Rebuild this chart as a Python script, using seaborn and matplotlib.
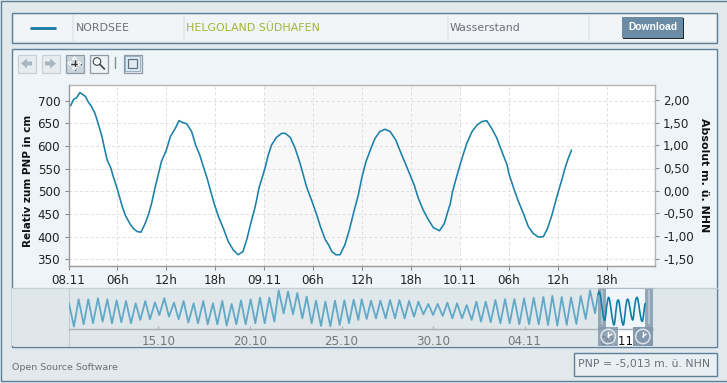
import matplotlib
matplotlib.use("Agg")
import matplotlib.pyplot as plt
from matplotlib.patches import Rectangle, Circle, Polygon
import seaborn as sns
import pandas as pd

# --- data -------------------------------------------------------------
hours = [0.0,0.3,0.6,1.0,1.4,1.8,2.1,2.4,2.8,3.25,3.7,4.1,4.5,4.75,5.2,5.5,5.9,6.3,6.6,7.0,7.55,8.0,8.45,8.9,
         9.4,9.8,10.2,10.6,11.0,11.4,12.0,12.5,13.1,13.55,14.0,14.5,15.1,15.6,16.1,16.6,17.0,17.4,17.85,18.4,
         19.0,19.6,20.2,20.8,21.4,21.9,22.35,22.9,23.4,23.6,24.1,24.5,24.9,25.5,26.15,26.6,27.2,27.8,28.4,28.8,
         29.2,29.8,30.45,30.9,31.5,31.9,32.3,32.8,33.3,33.9,34.45,35.0,35.55,36.0,36.5,37.1,37.6,38.2,38.8,39.45,
         40.15,40.7,41.3,41.9,42.4,42.9,43.5,44.15,44.75,45.5,46.1,46.7,46.8,47.1,47.6,48.2,48.85,49.5,50.1,50.7,
         51.3,51.9,52.5,53.15,53.8,54.0,54.6,55.2,55.8,56.4,57.0,57.65,58.25,58.75,59.3,59.9,60.5,60.9,61.3,61.7]
level_cm = [687,690,702,707,718,713,709,698,688,672,646,621,588,569,551,532,510,485,466,446,428,417,411,410,
            429,448,474,507,536,566,591,621,639,656,652,649,632,602,580,551,529,503,474,444,
            418,389,371,360,367,396,429,466,510,521,551,580,602,619,628,628,619,595,562,536,
            510,481,448,422,393,382,367,360,360,382,415,455,492,532,566,595,617,632,637,632,
            613,588,562,536,514,485,459,437,420,413,429,466,470,499,532,569,606,632,646,654,
            656,639,619,588,558,540,507,477,451,422,407,399,400,418,448,488,525,551,573,591]

overview_days = [0.125,0.398,0.653,0.926,1.181,1.436,1.708,1.963,2.218,2.473,2.727,2.982,3.237,3.510,3.764,4.019,
                 4.292,4.547,4.820,5.056,5.329,5.584,5.857,6.112,6.384,6.639,6.930,7.167,7.458,7.695,7.986,8.222,
                 8.495,8.732,9.005,9.259,9.514,9.769,10.041,10.296,10.551,10.806,11.061,11.334,11.570,11.843,
                 12.080,12.353,12.589,12.862,13.099,13.372,13.608,13.881,14.118,14.391,14.645,14.900,15.155,15.409,
                 15.664,15.919,16.101,16.374,16.610,16.883,17.120,17.411,17.647,17.920,18.157,18.448,18.685,18.958,
                 19.194,19.467,19.740,19.995,20.249,20.522,20.777,21.050,21.305,21.578,21.832,22.105,22.360,22.615,
                 22.869,23.142,23.397,23.670,23.925,24.179,24.434,24.707,24.962,25.235,25.489,25.762,26.017,26.272,
                 26.508,26.781,27.018,27.291,27.527,27.818,28.055,28.328,28.564,28.837]
overview_cm = [592,342,635,367,635,378,646,396,635,378,624,389,617,378,592,414,617,421,603,467,646,449,599,421,
               617,385,592,378,617,367,592,367,617,353,585,367,624,367,635,378,653,378,653,396,731,485,717,474,
               703,431,663,378,621,349,610,346,621,360,624,378,631,414,635,424,621,431,621,431,628,431,628,431,
               617,449,610,474,585,467,585,456,599,431,592,431,574,414,610,396,610,389,628,378,638,378,638,367,
               646,367,653,367,660,360,671,353,660,360,656,371,671,424,731,485]

main_x_ticks = [0,6,12,18,24,30,36,42,48,54,60,66]
main_x_labels = ["08.11","06h","12h","18h","09.11","06h","12h","18h","10.11","06h","12h","18h"]
left_y_ticks = [350,400,450,500,550,600,650,700]
right_y_ticks = [-1.5,-1.0,-0.5,0.0,0.5,1.0,1.5,2.0]
right_y_labels = ["-1,50","-1,00","-0,50","0,00","0,50","1,00","1,50","2,00"]
over_x_ticks = [5,10,15,20,25,30]
over_x_labels = ["15.10","20.10","25.10","30.10","04.11","09.11"]
pnp_offset = 5.013
start_day = 29

main_df = pd.DataFrame({"hour": hours, "cm": level_cm})
over_df = pd.DataFrame({"day": overview_days + [start_day], "cm": overview_cm + [level_cm[0]]})
sel_df = pd.DataFrame({"day": [start_day + h / 24 for h in hours], "cm": level_cm})

# --- figure -----------------------------------------------------------
sns.set_style("white")
plt.rcParams["font.family"] = ["DejaVu Sans"]
W, H = 727, 383
PAGE = "#E1E9ED"
BORDER = "#5F7F99"
PANEL = "#EFF4F8"
CELL = "#F1F5F7"
TXT = "#6E6E7C"
fig = plt.figure(figsize=(W / 100, H / 100), dpi=100, facecolor=PAGE)


def overlay(z):
    a = fig.add_axes([0, 0, 1, 1], zorder=z)
    a.set_xlim(0, W)
    a.set_ylim(H, 0)
    a.axis("off")
    a.patch.set_alpha(0)
    return a


def box(a, x0, y0, x1, y1, fc, ec="none", lw=0.0, z=1, alpha=None):
    a.add_patch(Rectangle((x0, y0), x1 - x0, y1 - y0, facecolor=fc, edgecolor=ec, linewidth=lw, zorder=z, alpha=alpha))


bg = overlay(0)
box(bg, 0.5, 1.0, 740, 380.5, PAGE, BORDER, 1.0)
# legend row
box(bg, 11.5, 12.5, 717, 42.5, PAGE, BORDER, 1.0)
for x0, x1 in [(13.5, 72), (74, 183), (185, 447), (449, 588), (590, 716)]:
    box(bg, x0, 14.5, x1, 40.5, CELL, z=2)
bg.plot([30, 56], [27.5, 27.5], color="#1378A5", lw=2.0, solid_capstyle="butt", zorder=3)
bg.text(75.5, 28, "NORDSEE", fontsize=7.9, color=TXT, va="center", ha="left")
bg.text(186, 28, "HELGOLAND SÜDHAFEN", fontsize=7.9, color="#A4B43A", va="center", ha="left")
bg.text(450, 28, "Wasserstand", fontsize=7.9, color=TXT, va="center", ha="left")
box(bg, 623, 17.5, 684, 38.5, "#1F2A33", z=3)
box(bg, 622, 17, 683, 37.5, "#6C8BA4", z=4)
bg.text(652.5, 27.5, "Download", fontsize=7.4, color="white", fontweight="bold",
        family="Liberation Sans", va="center", ha="center", zorder=5)
# main panel
box(bg, 11.5, 48.5, 717, 346.5, PANEL, BORDER, 1.0)
box(bg, 12.2, 287.5, 716.3, 346, "#DFE7EB", z=2)
bg.plot([12, 717], [287.5, 287.5], color="#C5CFD6", lw=1.0, zorder=3)
bg.plot([68.5, 68.5], [287.5, 346], color="#C5CDD2", lw=0.8, zorder=3)
box(bg, 606, 329.8, 645, 345.8, "white", z=4)
# toolbar
for x0, x1, fc, ec in [(17.5, 35.5, "#E6ECF0", "#C9D2D9"), (41.5, 59.5, "#E6ECF0", "#C9D2D9"),
                       (65.5, 83.5, "#C9D4DC", "#8E9BA5"), (89.5, 107.5, "#EDF2F5", "#8E9BA5"),
                       (123.5, 141.5, "#E3EAEF", "#8E9BA5")]:
    box(bg, x0, 54.5, x1, 72.5, fc, ec, 0.9, z=2)
bg.add_patch(Polygon([(21, 63.5), (27, 58.5), (27, 61.5), (32, 61.5), (32, 65.5), (27, 65.5), (27, 68.5)],
                     facecolor="#A9B6BF", edgecolor="none", zorder=3))
bg.add_patch(Polygon([(56, 63.5), (50, 58.5), (50, 61.5), (45, 61.5), (45, 65.5), (50, 65.5), (50, 68.5)],
                     facecolor="#A9B6BF", edgecolor="none", zorder=3))
bg.plot([68.5, 80.5], [63.5, 63.5], color="#333333", lw=0.9, zorder=3)
bg.plot([74.5, 74.5], [57.5, 69.5], color="#333333", lw=0.9, zorder=3)
bg.add_patch(Polygon([(68, 63.5), (70.5, 61.5), (70.5, 65.5)], facecolor="#333333", zorder=3))
bg.add_patch(Polygon([(81, 63.5), (78.5, 61.5), (78.5, 65.5)], facecolor="#333333", zorder=3))
bg.add_patch(Polygon([(74.5, 57), (72.5, 59.5), (76.5, 59.5)], facecolor="#333333", zorder=3))
bg.add_patch(Polygon([(74.5, 70), (72.5, 67.5), (76.5, 67.5)], facecolor="#333333", zorder=3))
bg.add_patch(Circle((97, 61.5), 3.8, facecolor="#F7F9FA", edgecolor="#444444", lw=0.8, zorder=3))
bg.plot([100, 104.5], [64.5, 69], color="#444444", lw=1.2, zorder=3)
bg.plot([115, 115], [57, 68], color="#6F8F76", lw=0.9, zorder=3)
box(bg, 128, 59, 137, 68, "#E3EAEF", "#5E7184", 0.9, z=3)
box(bg, 125, 56, 140, 71, "none", "#8FB0C8", 0.7, z=3)
bg.text(12, 367.5, "Open Source Software", fontsize=6.8, color=TXT, va="center", ha="left")
box(bg, 573.5, 352.5, 717, 375.5, "#E9EFF2", BORDER, 1.0, z=2)
bg.text(577.5, 364, "PNP = -5,013 m. ü. NHN", fontsize=7.8, color=TXT, va="center", ha="left", zorder=3)

# main chart
ax = fig.add_axes([68.5 / W, 1 - 266 / H, (654.7 - 68.5) / W, (266 - 84.5) / H], zorder=2)
ax.set_facecolor("white")
ax.axvspan(24, 48, color="#F8F8F8", lw=0, zorder=0)
ax.grid(True, color="#DEDEDE", ls=(0, (3, 2.5)), lw=0.7)
ax.set_axisbelow(True)
sns.lineplot(data=main_df, x="hour", y="cm", ax=ax, color="#1A80A8", lw=1.15, estimator=None, sort=False)
ax.set_xlim(0, 71.9)
ax.set_ylim(335.2, 735.8)
ax.set_xticks(main_x_ticks, main_x_labels)
ax.set_yticks(left_y_ticks)
ax.set_xlabel("")
ax.set_ylabel("Relativ zum PNP in cm", fontsize=7.5, fontweight="bold", color="#111111")
ax.tick_params(axis="both", labelsize=8.6, colors="#222222", color="#8C8C8C", length=3, width=0.8, pad=3,
               bottom=True, left=True)
for name, spine in ax.spines.items():
    spine.set_visible(True)
    spine.set_color("#9A9A9A" if name in ("left", "bottom") else "#B4B4B4")
    spine.set_linewidth(1.0)
ax.yaxis.set_label_coords((33 - 68.5) / (654.7 - 68.5), 0.47)

sec = ax.secondary_yaxis("right", functions=(lambda v: v / 100 - pnp_offset, lambda v: (v + pnp_offset) * 100))
sec.set_yticks(right_y_ticks, right_y_labels)
sec.tick_params(axis="y", labelsize=8.6, colors="#222222", color="#8C8C8C", length=3, width=0.8, pad=3)
sec.spines["right"].set_visible(False)
bg2 = overlay(4)
bg2.text(704, 175.5, "Absolut m. ü. NHN", fontsize=7.9, fontweight="bold", color="#111111",
         rotation=-90, va="center", ha="center")

# overview
ov = fig.add_axes([68.5 / W, 1 - 329.3 / H, (653 - 68.5) / W, (329.3 - 288) / H], zorder=2)
ov.patch.set_alpha(0)
ov.axvspan(29, 32, color="#F0F5F9", lw=0, zorder=0)
sns.lineplot(data=over_df, x="day", y="cm", ax=ov, color="#62A9C7", lw=1.3, estimator=None, sort=False,
             solid_joinstyle="round")
ov.set_xlim(0.1, 32)
ov.set_ylim(314, 756)
ov.set_xticks(over_x_ticks, over_x_labels)
ov.set_yticks([])
ov.set_xlabel("")
ov.set_ylabel("")
ov.tick_params(axis="x", labelsize=8.6, labelcolor="#777777", color="#A8B0B5", direction="in", length=2,
               width=0.8, pad=4, bottom=True)
ov.get_xticklabels()[-1].set_color("#111111")
for name, spine in ov.spines.items():
    spine.set_visible(name == "bottom")
ov.spines["bottom"].set_color("#A8B0B5")
ov.spines["bottom"].set_linewidth(1.0)

# range selector on top of the overview
top = overlay(3)
HANDLE = "#93A6B8"
box(top, 598.3, 288, 606, 329, HANDLE, z=1)
box(top, 645, 288, 652.7, 329, HANDLE, z=1)
for xc in (602, 649):
    box(top, xc - 1, 290, xc + 1, 324, "#B4C2CE", z=2)
top.plot([598.3, 652.7], [287.8, 287.8], color="#A9B8C5", lw=0.8, zorder=2)
box(top, 598.3, 327, 618, 346, "#8499AC", z=3, alpha=0.85)
box(top, 633, 327, 652.7, 346, "#8499AC", z=3)
for xc in (608.2, 642.8):
    top.add_patch(Circle((xc, 336.5), 7.2, facecolor="none", edgecolor="#DDE5EB", lw=1.1, zorder=4))
    top.plot([xc, xc], [336.5, 331.5], color="white", lw=1.0, zorder=4)
    top.plot([xc, xc + 3.5], [336.5, 334], color="white", lw=1.0, zorder=4)

# selected period, drawn above the handles
ln = fig.add_axes(ov.get_position(), zorder=3.5)
ln.patch.set_alpha(0)
sns.lineplot(data=sel_df, x="day", y="cm", ax=ln, color="#0F7FA8", lw=1.2, estimator=None, sort=False)
ln.set_xlim(ov.get_xlim())
ln.set_ylim(ov.get_ylim())
ln.axis("off")

fig.savefig("out.png", dpi=100, facecolor=PAGE)
